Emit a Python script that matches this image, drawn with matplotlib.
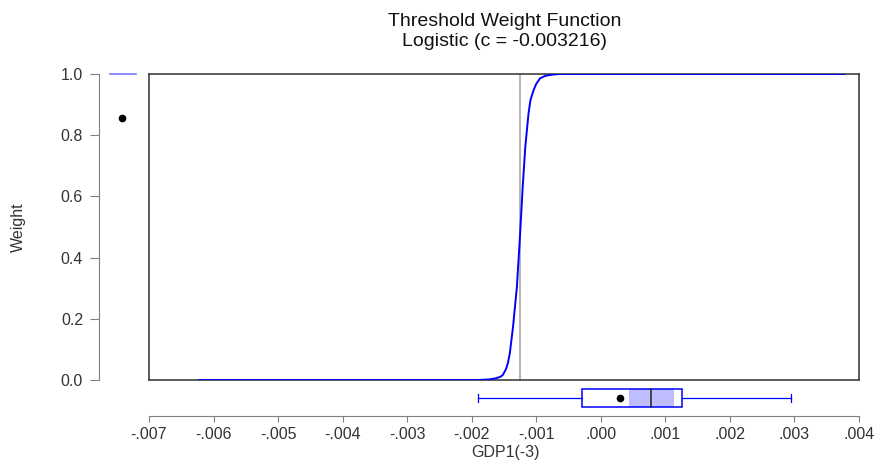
import numpy as np
import matplotlib.pyplot as plt

plt.rcParams['font.family'] = ['Liberation Sans', 'DejaVu Sans']

# curve (GDP1(-3) vs weight)
gdp = [-0.00622, -0.00190, -0.00172, -0.00164, -0.00156, -0.00152, -0.00147, -0.00144,
       -0.00141, -0.00136, -0.00130, -0.00125, -0.00121, -0.00117, -0.00112,
       -0.00109, -0.00104, -0.00100, -0.00094, -0.00086, -0.00075, -0.00063, 0.00377]
weight = [0.0, 0.0, 0.002, 0.005, 0.010, 0.016, 0.035, 0.055,
          0.087, 0.174, 0.305, 0.479, 0.632, 0.762, 0.871,
          0.915, 0.948, 0.968, 0.986, 0.994, 0.998, 1.0, 1.0]
thresh_line = -0.00125

# marginal box of GDP1(-3)
x_whisk = [-0.001899, 0.002944]
x_box = [-0.000293, 0.001260]
x_shade = [0.000443, 0.001131]
x_median = 0.000779
x_mean = 0.000303

# marginal box of weight
w_median = 1.0
w_mean = 0.856

xticks = [-0.007, -0.006, -0.005, -0.004, -0.003, -0.002, -0.001, 0.0, 0.001, 0.002, 0.003, 0.004]
xticklabels = ['-.007', '-.006', '-.005', '-.004', '-.003', '-.002', '-.001',
               '.000', '.001', '.002', '.003', '.004']
yticks = [0.0, 0.2, 0.4, 0.6, 0.8, 1.0]

W, H = 877, 462
fig = plt.figure(figsize=(W / 100, H / 100), dpi=100)

def rect(x0, y0, x1, y1):
    return [x0 / W, 1 - y1 / H, (x1 - x0) / W, (y1 - y0) / H]

xlim = (-0.007, 0.004)
tc = '#333333'
sc = '#808080'
fs = 11.5

# main panel
ax = fig.add_axes(rect(149, 74, 859, 380))
ax.plot(gdp, weight, color='#0000ff', lw=1.4, zorder=3)
ax.axvline(thresh_line, color='#b4b4b4', lw=1.4, zorder=2)
ax.set_xlim(xlim)
ax.set_ylim(0, 1)
ax.set_xticks([])
ax.set_yticks([])
for s in ax.spines.values():
    s.set_color('#404040')
    s.set_linewidth(1.2)

fig.text(505 / W, 1 - 26 / H, 'Threshold Weight Function', ha='center', va='baseline',
         fontsize=14, color='#111111')
fig.text(505 / W, 1 - 46 / H, 'Logistic (c = -0.003216)', ha='center', va='baseline',
         fontsize=14, color='#111111')

# bottom axis with box plot
axb = fig.add_axes(rect(149, 380, 859, 416))
axb.set_xlim(xlim)
axb.set_ylim(0, 36)
yc = 18
hb = 8.7
axb.plot([x_whisk[0], x_box[0]], [yc, yc], color='#0000ff', lw=0.9)
axb.plot([x_box[1], x_whisk[1]], [yc, yc], color='#0000ff', lw=0.9)
for xv in x_whisk:
    axb.plot([xv, xv], [yc - 3.8, yc + 3.8], color='#0000ff', lw=0.9)
axb.fill_between(x_shade, yc - hb, yc + hb, color='#bdbdff', lw=0)
axb.add_patch(plt.Rectangle((x_box[0], yc - hb), x_box[1] - x_box[0], 2 * hb,
                            fill=False, edgecolor='#0000ff', lw=1.1))
axb.plot([x_median, x_median], [yc - hb, yc + hb], color='#222222', lw=1.1)
axb.plot([x_mean], [yc], 'o', color='black', ms=4.5)
axb.set_xticks(xticks)
axb.set_xticklabels(xticklabels)
axb.set_yticks([])
for k in ['top', 'left', 'right']:
    axb.spines[k].set_visible(False)
axb.spines['bottom'].set_color(sc)
axb.spines['bottom'].set_bounds(-0.007, 0.004)
axb.patch.set_alpha(0)
axb.tick_params(axis='x', colors=sc, labelcolor=tc, labelsize=fs, length=4.5, pad=3.5)
fig.text(505 / W, 1 - 453 / H, 'GDP1(-3)', ha='center', va='center', fontsize=fs, color=tc)

# left axis with box plot of weight
axl = fig.add_axes(rect(99, 74, 149, 380))
axl.set_ylim(0, 1)
axl.set_xlim(99, 149)
axl.plot([110, 136], [w_median, w_median], color='#7878ff', lw=1.2, clip_on=False)
axl.plot([122], [w_mean], 'o', color='black', ms=4.5)
axl.set_yticks(yticks)
axl.set_yticklabels(['%.1f' % v for v in yticks])
axl.set_xticks([])
for k in ['top', 'bottom', 'right']:
    axl.spines[k].set_visible(False)
axl.spines['left'].set_color(sc)
axl.patch.set_alpha(0)
axl.tick_params(axis='y', colors=sc, labelcolor=tc, labelsize=fs, length=6.5, pad=5)
fig.text(18 / W, 1 - 227 / H, 'Weight', ha='center', va='center', rotation=90,
         fontsize=fs, color=tc)

fig.savefig('out.png', dpi=100)
